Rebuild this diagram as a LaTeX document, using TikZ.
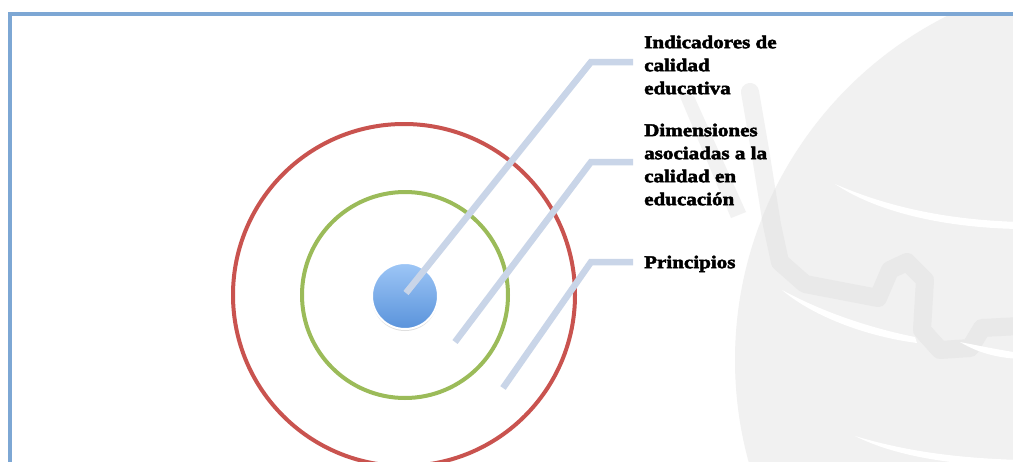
\documentclass[tikz,border=0pt]{standalone}
\usepackage{fontspec}
\newfontfamily\lblfont[FakeStretch=1.17,FakeBold=2.6]{Liberation Serif Bold}
\usetikzlibrary{shadows}
\definecolor{framec}{HTML}{7DA7D4}
\definecolor{redc}{HTML}{C9534F}
\definecolor{greenc}{HTML}{9BBB59}
\definecolor{linkc}{HTML}{C9D5E8}
\definecolor{globec}{HTML}{F1F1F1}
\definecolor{bandc}{HTML}{E9E9E9}
\definecolor{bandlc}{HTML}{F2F2F2}
\definecolor{bluetop}{HTML}{9DC6F6}
\definecolor{bluebot}{HTML}{5A93DB}
\tikzset{
  ring/.style={line width=4pt, fill=none},
  link/.style={draw=linkc, line width=6.5pt, line join=miter, line cap=butt},
  lbl/.style={font=\lblfont\fontsize{18}{23}\selectfont, align=left, anchor=north west, inner sep=0pt, text=black},
  band/.style={line width=18pt, line join=round, line cap=round},
}
\begin{document}
\begin{tikzpicture}[x=1pt,y=-1pt]
\useasboundingbox (0,0) rectangle (1013,461);
\fill[white] (0,0) rectangle (1013,461);
% watermark globe
\begin{scope}
  \clip (12,15) rectangle (1013,461);
  \fill[bandlc] (678,92) -- (694,96) -- (746,212) -- (731,218) -- cycle;
  \draw[bandlc, band] (750,92) -- (760,150) -- (772,225);
  \fill[globec] (1120,360) circle[radius=385pt];
  \begin{scope}
    \clip (1120,360) circle[radius=385pt];
    \draw[bandc, band]
      (750,92) -- (760,150) -- (772,225) -- (780,262) -- (805,284) -- (878,298)
      -- (890,270) -- (907,262) -- (925,280) -- (922,330) -- (940,350) -- (970,348) -- (982,328) -- (1020,326);
  \end{scope}
  \fill[white] (835,184) .. controls (890,208) and (950,220) .. (1020,222)
    -- (1020,229) .. controls (950,228) and (880,214) .. (835,184) -- cycle;
  \fill[white] (782,290) .. controls (830,316) and (880,330) .. (915,337)
    -- (917,343) .. controls (870,337) and (815,318) .. (782,290) -- cycle;
  \fill[white] (960,342) .. controls (980,346) and (1000,350) .. (1020,353)
    -- (1020,359) .. controls (1000,358) and (980,354) .. (960,342) -- cycle;
  \fill[white] (855,436) .. controls (905,451) and (955,458) .. (1020,460)
    -- (1020,467) .. controls (950,465) and (895,456) .. (855,436) -- cycle;
\end{scope}
% frame
\draw[framec, line width=4pt] (1030,13.5) -- (10,13.5) -- (10,480);
% rings
\node[draw=redc, ring, circle, minimum size=342pt, inner sep=0pt] (outer) at (404,295) {};
\node[draw=greenc, ring, circle, minimum size=206pt, inner sep=0pt] (middle) at (405,295) {};
% connectors
\coordinate (s1) at (406,293);
\coordinate (k1) at (591,62);
\coordinate (e1) at (633,62);
\coordinate (s2) at (455,342);
\coordinate (k2) at (591,162);
\coordinate (e2) at (633,162);
\coordinate (s3) at (503,388);
\coordinate (k3) at (591,262);
\coordinate (e3) at (633,262);
\node[circle, minimum size=66pt, inner sep=0pt, draw=white, line width=2pt,
      top color=bluetop, bottom color=bluebot,
      drop shadow={opacity=0.25, shadow xshift=0pt, shadow yshift=-2pt}] (core) at (405,296) {};
\draw[link] (s1) -- (k1) -- (e1);
\draw[link] (s2) -- (k2) -- (e2);
\draw[link] (s3) -- (k3) -- (e3);
% labels
\node[lbl] (t1) at (644,35.5) {Indicadores de\\calidad\\educativa};
\node[lbl] (t2) at (644,123.5) {Dimensiones\\asociadas a la\\calidad en\\educación};
\node[lbl] (t3) at (644,255.5) {Principios};
\end{tikzpicture}
\end{document}
